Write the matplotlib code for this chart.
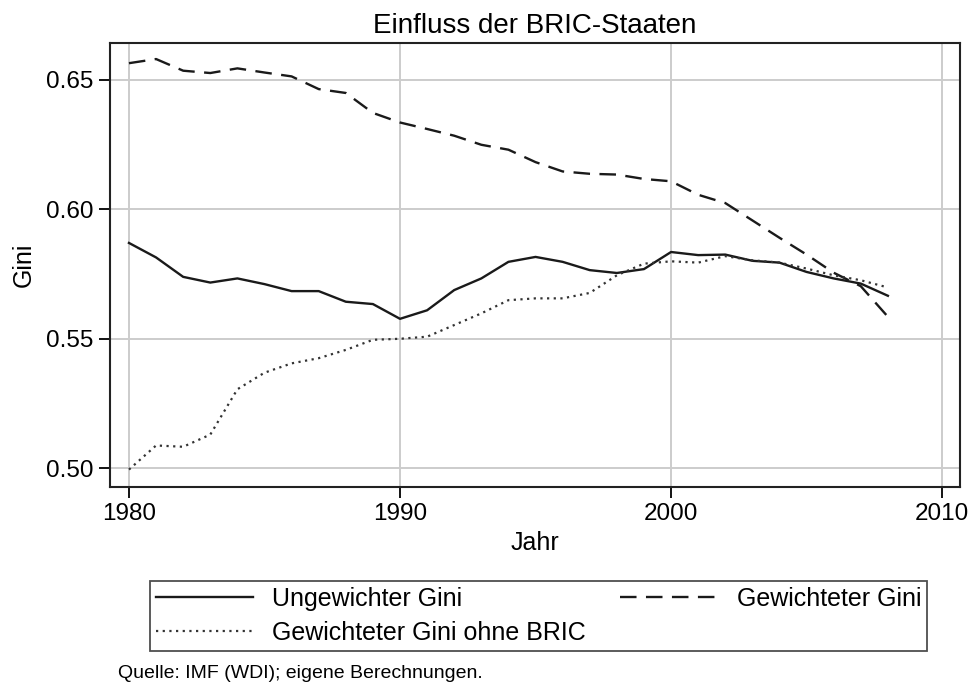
import matplotlib.pyplot as plt

plt.rcParams['font.family'] = ['Liberation Sans', 'DejaVu Sans']

years = list(range(1980, 2009))

# Ungewichter Gini
ungewichtet = [0.5870, 0.5814, 0.5739, 0.5717, 0.5733, 0.5711, 0.5684, 0.5684, 0.5643, 0.5634,
               0.5577, 0.5610, 0.5688, 0.5733, 0.5797, 0.5816, 0.5797, 0.5765, 0.5754, 0.5769,
               0.5835, 0.5823, 0.5825, 0.5801, 0.5794, 0.5758, 0.5733, 0.5713, 0.5666]

# Gewichteter Gini
gewichtet = [0.6564, 0.6580, 0.6535, 0.6526, 0.6544, 0.6528, 0.6513, 0.6464, 0.6449, 0.6372,
             0.6335, 0.6310, 0.6284, 0.6249, 0.6230, 0.6182, 0.6146, 0.6137, 0.6134, 0.6117,
             0.6108, 0.6056, 0.6024, 0.5957, 0.5890, 0.5825, 0.5755, 0.5703, 0.5585]

# Gewichteter Gini ohne BRIC
ohne_bric = [0.4995, 0.5088, 0.5083, 0.5130, 0.5305, 0.5369, 0.5405, 0.5425, 0.5457, 0.5496,
             0.5500, 0.5508, 0.5553, 0.5598, 0.5649, 0.5656, 0.5656, 0.5677, 0.5745, 0.5790,
             0.5799, 0.5794, 0.5819, 0.5803, 0.5794, 0.5771, 0.5745, 0.5726, 0.5698]

xticks = [1980, 1990, 2000, 2010]
yticks = [0.50, 0.55, 0.60, 0.65]

fig = plt.figure(figsize=(9.76, 6.9), dpi=100)
ax = fig.add_axes([0.1127, 0.2947, 0.8709, 0.6430])

l1, = ax.plot(years, ungewichtet, color='#1a1a1a', lw=1.7, linestyle='-', label='Ungewichter Gini')
l2, = ax.plot(years, gewichtet, color='#1a1a1a', lw=1.7, linestyle=(0, (7, 4)), label='Gewichteter Gini')
l3, = ax.plot(years, ohne_bric, color='#333333', lw=1.6, linestyle=(0, (1, 2)), label='Gewichteter Gini ohne BRIC')

ax.set_xlim(1979.3, 2010.66)
ax.set_ylim(0.4929, 0.6642)
ax.set_xticks(xticks)
ax.set_yticks(yticks)
ax.set_yticklabels(['%.2f' % v for v in yticks])
ax.grid(True, color='#cccccc', lw=1.4)
ax.set_axisbelow(True)
for s in ax.spines.values():
    s.set_linewidth(1.5)
    s.set_color('#222222')
ax.tick_params(labelsize=17.5, length=8, width=1.3, direction='out', pad=4)

ax.set_title('Einfluss der BRIC-Staaten', fontsize=20, pad=7)
ax.set_xlabel('Jahr', fontsize=18, labelpad=4)
ax.set_ylabel('Gini', fontsize=18, labelpad=7)

leg = fig.legend(handles=[l1, l3, l2], ncol=2, mode='expand',
                 bbox_to_anchor=(0.1404, 0.0507, 0.8226, 0.1131), loc='center',
                 fontsize=18, handlelength=3.9, frameon=True, fancybox=False,
                 edgecolor='#222222', borderpad=0.25, labelspacing=0.4, handletextpad=0.75)
leg.get_frame().set_linewidth(1.3)

fig.text(0.121, 0.024, 'Quelle: IMF (WDI); eigene Berechnungen.', fontsize=14, ha='left', va='center')

fig.savefig('out.png', dpi=100)
